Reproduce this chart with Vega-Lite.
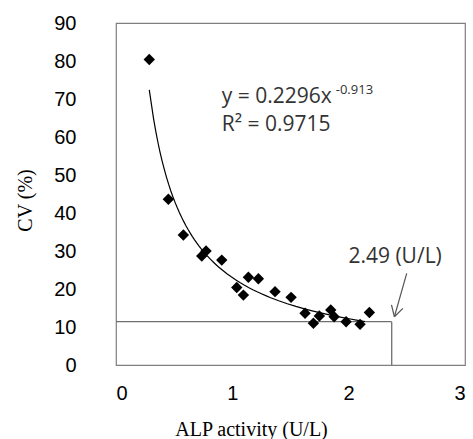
{
  "$schema": "https://vega.github.io/schema/vega-lite/v6.json",
  "autosize": {"type": "none"},
  "width": 349,
  "height": 342,
  "padding": {"left": 116, "top": 23, "right": 8, "bottom": 74},
  "background": "white",
  "config": {
    "view": {"stroke": "#7f7f7f", "strokeWidth": 1.2}
  },
  "datasets": {
    "pts": [
      {"x": 0.286, "y": 80.4}, {"x": 0.45, "y": 43.6}, {"x": 0.579, "y": 34.2}, {"x": 0.737, "y": 28.7},
      {"x": 0.774, "y": 30.0}, {"x": 0.909, "y": 27.6}, {"x": 1.038, "y": 20.4}, {"x": 1.095, "y": 18.4},
      {"x": 1.138, "y": 23.1}, {"x": 1.224, "y": 22.7}, {"x": 1.367, "y": 19.3}, {"x": 1.505, "y": 17.8},
      {"x": 1.625, "y": 13.6}, {"x": 1.697, "y": 11.0}, {"x": 1.748, "y": 12.9}, {"x": 1.846, "y": 14.5},
      {"x": 1.875, "y": 12.7}, {"x": 1.978, "y": 11.4}, {"x": 2.098, "y": 10.7}, {"x": 2.178, "y": 13.8}
    ],
    "refs": [
      {"x": 0, "y": 11.4, "x2": 2.37, "y2": 11.4},
      {"x": 2.37, "y": 11.4, "x2": 2.37, "y2": 0}
    ],
    "arrow": [
      {"x": 2.499, "y": 24.1, "x2": 2.393, "y2": 12.7},
      {"x": 2.393, "y": 12.7, "x2": 2.466, "y2": 14.9},
      {"x": 2.393, "y": 12.7, "x2": 2.368, "y2": 15.8}
    ],
    "labels": [
      {"x": 0.909, "y": 70.5, "t": "y = 0.2296x", "s": 21},
      {"x": 1.889, "y": 72.4, "t": "-0.913", "s": 13},
      {"x": 0.909, "y": 63.2, "t": "R² = 0.9715", "s": 21},
      {"x": 1.998, "y": 28.4, "t": "2.49 (U/L)", "s": 21}
    ]
  },
  "encoding": {
    "x": {"field": "x", "type": "quantitative", "scale": {"domain": [0, 3], "nice": false, "padding": 0},
      "axis": {"values": [0, 1, 2, 3], "format": "d", "grid": false, "ticks": false, "domain": false,
        "labelFont": "Liberation Sans", "labelFontSize": 20, "labelColor": "#000", "labelPadding": 18,
        "title": "ALP activity (U/L)", "titleFont": "Liberation Serif", "titleFontSize": 20, "titleFontWeight": "normal", "titleColor": "#000",
        "titleX": 135, "titleY": 54, "titleBaseline": "top"}},
    "y": {"field": "y", "type": "quantitative", "scale": {"domain": [0, 90], "nice": false, "padding": 0},
      "axis": {"values": [0, 10, 20, 30, 40, 50, 60, 70, 80, 90], "format": "d", "grid": false, "ticks": false, "domain": false,
        "labelFont": "Liberation Sans", "labelFontSize": 20, "labelColor": "#000", "labelPadding": 40,
        "title": "CV (%)", "titleFont": "Liberation Serif", "titleFontSize": 20, "titleFontWeight": "normal", "titleColor": "#000",
        "titleX": -91, "titleY": 177, "titleAngle": -90, "titleAlign": "center", "titleBaseline": "middle"}}
  },
  "layer": [
    {
      "data": {"name": "refs"},
      "mark": {"type": "rule", "color": "#707070", "strokeWidth": 1.3},
      "encoding": {"x2": {"field": "x2"}, "y2": {"field": "y2"}}
    },
    {
      "data": {"name": "arrow"},
      "mark": {"type": "rule", "color": "#555555", "strokeWidth": 1.2},
      "encoding": {"x2": {"field": "x2"}, "y2": {"field": "y2"}}
    },
    {
      "data": {"name": "pts"},
      "transform": [{"regression": "y", "on": "x", "method": "pow", "extent": [0.286, 2.14]}],
      "mark": {"type": "line", "color": "#000", "strokeWidth": 1.2},
      "encoding": {}
    },
    {
      "data": {"name": "pts"},
      "mark": {"type": "point", "shape": "diamond", "filled": true, "color": "#000", "size": 130, "opacity": 1},
      "encoding": {}
    },
    {
      "data": {"name": "labels"},
      "mark": {"type": "text", "font": "Open Sans", "color": "#333", "baseline": "middle", "align": "left"},
      "encoding": {
        "text": {"field": "t"},
        "size": {"field": "s", "type": "quantitative", "scale": null}
      }
    }
  ]
}
